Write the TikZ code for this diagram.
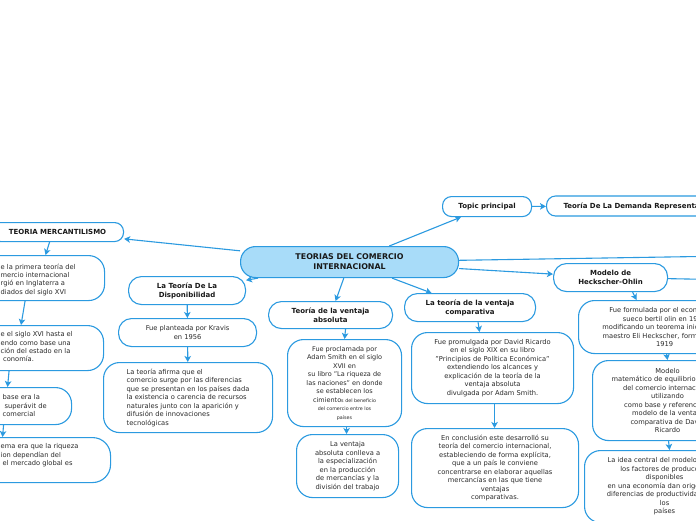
\documentclass[tikz,border=0pt]{standalone}
\usepackage{fontspec}
\setmainfont{DejaVu Sans}
\usetikzlibrary{arrows.meta,calc}
\definecolor{bd}{HTML}{2B9AE0}
\definecolor{cf}{HTML}{A8DCF9}
\definecolor{tx}{HTML}{2A2A2A}
\tikzset{
  box/.style={draw=bd, line width=1.1pt, rounded corners=13pt, fill=white, text=tx,
    font=\fontsize{6.7}{8.5}\selectfont, align=center, inner sep=0pt, anchor=north west},
  ttl/.style={box, font=\bfseries\fontsize{7}{9}\selectfont, text=black!90},
  txt/.style={text=tx, font=\fontsize{6.7}{8.4}\selectfont, align=left, inner sep=0pt, anchor=north west},
  arr/.style={draw=bd, line width=1.1pt, -{Stealth[length=6pt,width=6.5pt,inset=1.5pt]}},
  lin/.style={draw=bd, line width=1.1pt}
}
\begin{document}
\begin{tikzpicture}[x=1pt,y=-1pt]
\useasboundingbox (0,0) rectangle (696,520);
\fill[white] (0,0) rectangle (696,520);
\clip (0,0) rectangle (696,520);

% central
\node[box, fill=cf, font=\bfseries\fontsize{7.9}{10}\selectfont, text=black!90,
  minimum width=218, minimum height=31, rounded corners=15pt] (central) at (240,246)
  {TEORIAS DEL COMERCIO\\ INTERNACIONAL};

% left branch: mercantilismo
\node[ttl, minimum width=132, minimum height=19, rounded corners=9pt] (merc) at (-9,222) {TEORIA MERCANTILISMO};
\node[box, minimum width=129, minimum height=45, rounded corners=16pt] (m1) at (-25,255) {};
\node[txt] (m1t) at (0.5,263.5) {e la primera teoría del\\mercio internacional\\rgió en Inglaterra a\\diados del siglo XVI};
\node[box, minimum width=143, minimum height=45, rounded corners=16pt] (m2) at (-40,325) {};
\node[txt] (m2t) at (0.5,331.5) {e el siglo XVI hasta el\\endo como base una\\ción del estado en la\\\hspace*{2.5pt}conomía.};
\node[box, minimum width=111, minimum height=37, rounded corners=16pt] (m3) at (-40,387) {};
\node[txt] (m3t) at (2.5,394.5) {base era la\\\hspace*{2pt}superávit de\\comercial};
\node[box, minimum width=170, minimum height=45, rounded corners=18pt] (m4) at (-60,437) {};
\node[txt] (m4t) at (0.5,443.5) {ema era que la riqueza\\ion dependían del\\\hspace*{2pt}el mercado global es};

% disponibilidad
\node[ttl, minimum width=117, minimum height=28] (dispo) at (128,276) {La Teoría De La\\ Disponibilidad};
\node[box, minimum width=138, minimum height=28] (kravis) at (118,318) {Fue planteada por Kravis\\en 1956};
\node[box, minimum width=169, minimum height=70, rounded corners=16pt, align=left] (afirma) at (103,362)
  {La teoría afirma que el\\comercio surge por las diferencias\\que se presentan en los países dada\\la existencia o carencia de recursos\\naturales junto con la aparición y\\difusión de innovaciones\\tecnológicas};

% ventaja absoluta
\node[ttl, minimum width=124, minimum height=27] (absol) at (268,301) {Teoría de la ventaja\\ absoluta};
\node[box, minimum width=114, minimum height=87, rounded corners=16pt, font=\fontsize{6.5}{8.5}\selectfont] (procl) at (287,339)
  {Fue proclamada por\\Adam Smith en el siglo\\XVII en\\su libro "La riqueza de\\las naciones" en donde\\se establecen los\\cimiento{\fontsize{4.8}{8}\selectfont s del beneficio}\\{\fontsize{4.8}{8}\selectfont del comercio entre los}\\{\fontsize{4.8}{8}\selectfont países}};
\node[box, minimum width=102, minimum height=63, rounded corners=16pt] (conlleva) at (296,434)
  {La ventaja\\absoluta conlleva a\\la especialización\\en la producción\\de mercancías y la\\división del trabajo};

% ventaja comparativa
\node[ttl, minimum width=131, minimum height=28] (compar) at (404,293) {La teoría de la ventaja\\ comparativa};
\node[box, minimum width=162, minimum height=71, rounded corners=16pt] (ricardo) at (411,332)
  {Fue promulgada por David Ricardo\\en el siglo XIX en su libro\\"Principios de Política Económica"\\extendiendo los alcances y\\explicación de la teoría de la\\ventaja absoluta\\ divulgada por Adam Smith.};
\node[box, minimum width=167, minimum height=79, rounded corners=16pt] (concl) at (411,428)
  {En conclusión este desarrolló su\\teoría del comercio internacional,\\estableciendo de forma explícita,\\que a un país le conviene\\concentrarse en elaborar aquellas\\mercancías en las que tiene\\ventajas\\comparativas.};

% topic principal
\node[ttl, minimum width=89, minimum height=20, rounded corners=9pt] (topic) at (442,196) {Topic principal};
\node[ttl, minimum height=20, rounded corners=9pt, inner xsep=17pt, anchor=west] (demanda) at (546,206) {Teoría De La Demanda Representativa};

% Heckscher-Ohlin
\node[ttl, minimum width=114, minimum height=28] (heck) at (553,263) {Modelo de\\Heckscher-Ohlin};
\node[box, minimum width=172, minimum height=53, rounded corners=16pt] (r1) at (578,300)
  {Fue formulada por el economista\\sueco bertil olin en 1933\\modificando un teorema inicial de su\\maestro Eli Heckscher, formulado en\\1919};
\node[box, minimum width=150, minimum height=80, rounded corners=16pt] (r2) at (592,360)
  {Modelo\\matemático de equilibrio general\\del comercio internacional\\utilizando\\como base y referencia el\\modelo de la ventaja\\comparativa de David\\Ricardo};
\node[box, minimum width=160, minimum height=72, rounded corners=16pt] (r3) at (584,450)
  {La idea central del modelo es que\\los factores de producción\\disponibles\\en una economía dan origen a las\\diferencias de productividad entre\\los\\países};

\coordinate (offA) at (730,256);
\coordinate (offB) at (740,280);

% connectors
\draw[arr] (central) -- (merc);
\draw[arr] ([xshift=-8pt]merc.south) -- ([xshift=5.5pt]m1.north);
\draw[arr] ([xshift=-15pt]m1.south) -- ([xshift=-11pt]m2.north);
\draw[arr] ([xshift=-23pt]m2.south) -- ([xshift=-8.5pt]m3.north);
\draw[arr] ([xshift=-12.5pt]m3.south) -- ([xshift=-23pt]m4.north);

\draw[arr] (central) -- (dispo);
\draw[arr] (dispo) -- (kravis);
\draw[arr] (kravis) -- (afirma);

\draw[arr] (central) -- (absol);
\draw[arr] ([xshift=15pt]absol.south) -- (procl.north);
\draw[arr] ([xshift=2pt]procl.south) -- ([xshift=-1pt]conlleva.north);

\draw[arr] (central) -- (compar);
\draw[arr] ([xshift=8pt]compar.south) -- ([xshift=-13pt]ricardo.north);
\draw[arr] ([xshift=2pt]ricardo.south) -- ([xshift=-0.5pt]concl.north);

\draw[arr] (central) -- (topic);
\draw[arr] (topic) -- (demanda);

\draw[arr] (central) -- (offA);
\draw[arr] (central) -- (heck);
\draw[arr] (heck) -- (offB);
\draw[arr] ([xshift=22pt]heck.south) -- ([xshift=-28pt]r1.north);
\draw[arr] ([xshift=2pt]r1.south) -- (r2.north);
\draw[arr] ([xshift=1pt]r2.south) -- ([xshift=5pt]r3.north);
\end{tikzpicture}
\end{document}
